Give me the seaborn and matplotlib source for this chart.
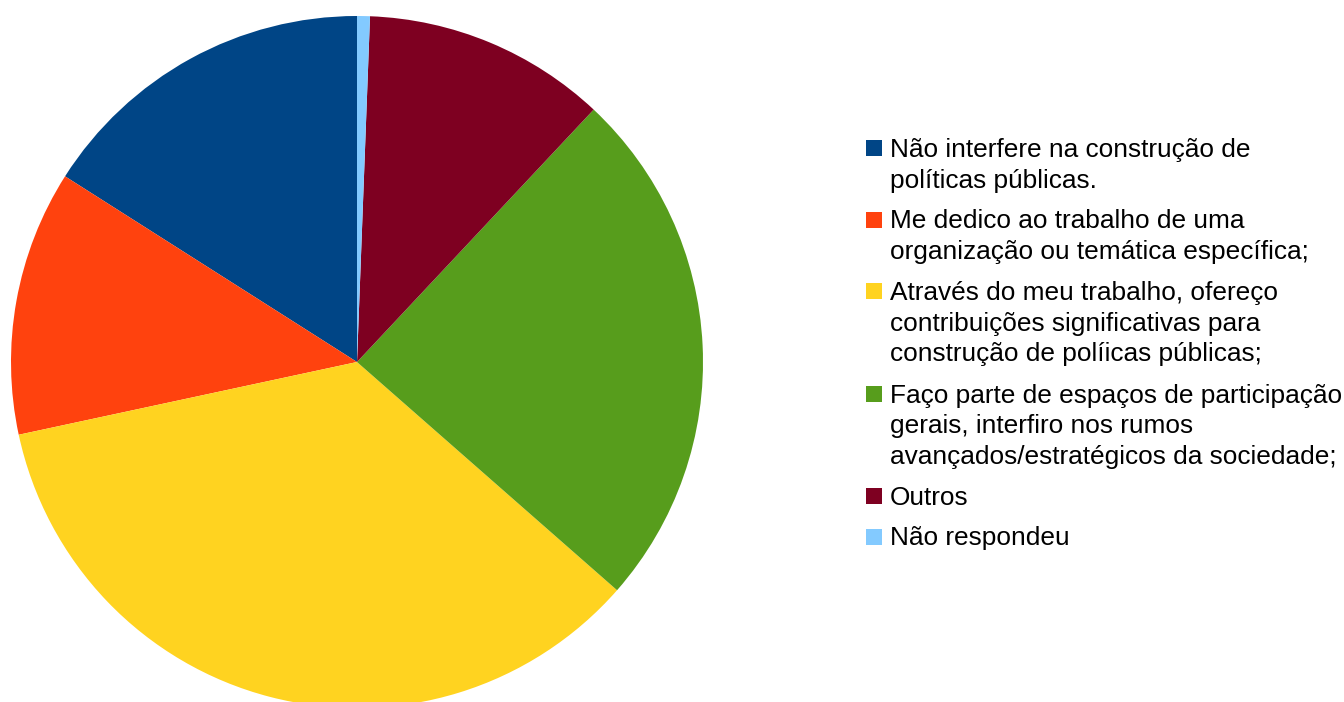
import matplotlib
import seaborn as sns

matplotlib.use("Agg")
import matplotlib.pyplot as plt  # noqa: E402
from matplotlib.patches import Rectangle  # noqa: E402

labels = [
    "Não interfere na construção de\npolíticas públicas.",
    "Me dedico ao trabalho de uma\norganização ou temática específica;",
    "Através do meu trabalho, ofereço\ncontribuições significativas para\nconstrução de políicas públicas;",
    "Faço parte de espaços de participação\ngerais, interfiro nos rumos\navançados/estratégicos da sociedade;",
    "Outros",
    "Não respondeu",
]
shares = [16.0, 12.4, 35.2, 24.5, 11.4, 0.6]
colors = ["#004586", "#ff420e", "#ffd320", "#579d1c", "#7e0021", "#83caff"]

sns.set_theme(style="white")
plt.rcParams["font.family"] = ["Liberation Sans", "DejaVu Sans"]

W, H = 1344, 702
fig = plt.figure(figsize=(W / 100, H / 100), dpi=100)

cx, cy, r = 357, 362, 346
ax = fig.add_axes([(cx - r) / W, (H - cy - r) / H, 2 * r / W, 2 * r / H])
ax.pie(shares, colors=colors, startangle=90, counterclock=True,
       wedgeprops={"linewidth": 0})
ax.set_xlim(-1, 1)
ax.set_ylim(-1, 1)
ax.set_aspect("equal")
ax.axis("off")

# legend drawn by hand so the square sits on the first line of each entry
fs = 18.9
line_px = 31
gap_px = 9.5
y = 140
for lab, col in zip(labels, colors):
    fig.patches.append(Rectangle((866 / W, 1 - (y + 16) / H), 16 / W, 16 / H,
                                 transform=fig.transFigure, facecolor=col,
                                 edgecolor="none"))
    fig.text(890 / W, 1 - (y - 2) / H, lab, fontsize=fs, va="top", ha="left",
             linespacing=1.35, color="#000000")
    y += line_px * (lab.count("\n") + 1) + gap_px

fig.savefig("out.png", dpi=100)
